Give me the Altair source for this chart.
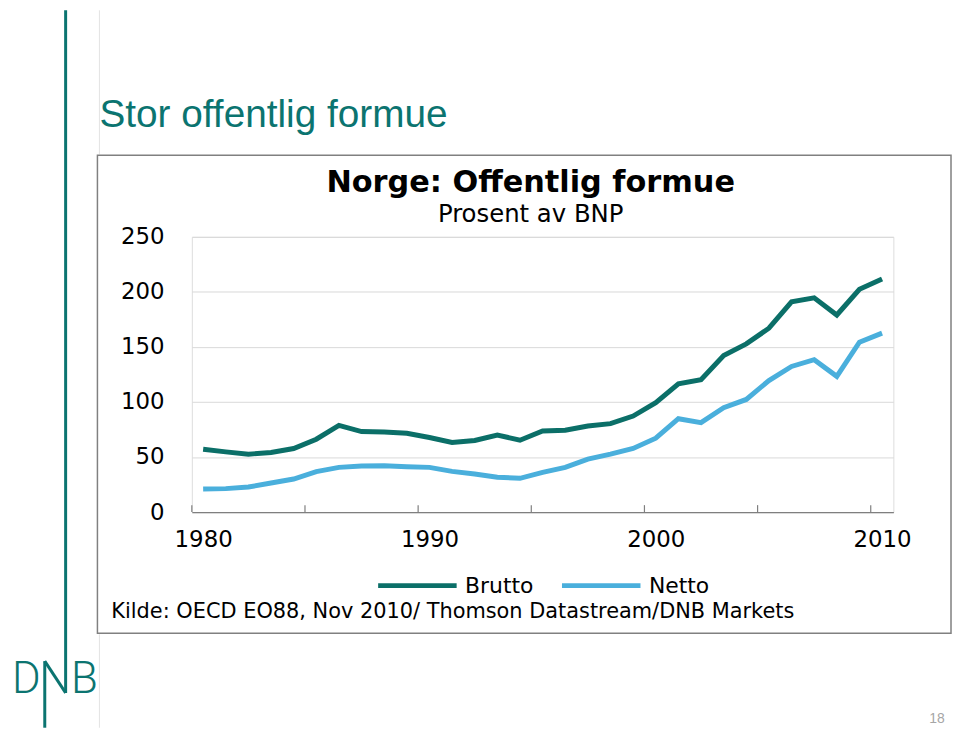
import altair as alt
import pandas as pd

# ---- data ----
years = list(range(1980, 2011))
brutto = [57.1, 54.7, 52.6, 54.1, 57.7, 66.2, 78.8, 73.1, 72.8, 71.6, 67.7, 63.2, 65.0, 70.0, 65.3,
          73.7, 74.3, 78.2, 80.3, 87.2, 99.3, 116.4, 120.3, 142.2, 152.8, 167.0, 191.0, 194.6, 179.0, 202.4, 211.7]
netto = [21.0, 21.3, 22.8, 26.4, 30.0, 36.7, 40.6, 41.8, 42.1, 41.2, 40.6, 37.0, 34.6, 31.6, 30.7,
         36.1, 40.6, 48.1, 52.6, 57.8, 67.1, 84.8, 81.2, 94.8, 102.3, 119.5, 132.3, 138.4, 123.3, 154.3, 162.5]
series_names = ["Brutto", "Netto"]
series_colors = ["#0b6f68", "#4aafdc"]
y_ticks = [0, 50, 100, 150, 200, 250]
x_labels = [1980, 1990, 2000, 2010]
x_tick_marks = [1979.5, 1984.5, 1989.5, 1994.5, 1999.5, 2004.5, 2009.5]

slide_title = "Stor offentlig formue"
chart_title = "Norge: Offentlig formue"
chart_subtitle = "Prosent av BNP"
source_text = "Kilde: OECD EO88, Nov 2010/ Thomson Datastream/DNB Markets"
page_no = "18"
logo_d, logo_b = "D", "B"

TEAL = "#0b7470"
W, H = 706, 277
FONT = "DejaVu Sans"

df = pd.DataFrame({
    "year": years * 2,
    "value": brutto + netto,
    "series": ["Brutto"] * len(years) + ["Netto"] * len(years),
})

lines = alt.Chart(df).mark_line(strokeWidth=5).encode(
    x=alt.X("year:Q",
            scale=alt.Scale(domain=[1979.5, 2010.5], nice=False, zero=False),
            axis=alt.Axis(values=x_labels, format="d", ticks=False, grid=False,
                          domainColor="#7f7f7f", domainWidth=1.2,
                          labelFont=FONT, labelFontSize=23, labelColor="black",
                          labelPadding=17, title=None)),
    y=alt.Y("value:Q",
            scale=alt.Scale(domain=[0, 250], nice=False),
            axis=alt.Axis(values=y_ticks, grid=True, gridColor="#d9d9d9", gridWidth=1,
                          domain=False, ticks=False, labelFont=FONT, labelFontSize=23,
                          labelColor="black", labelPadding=28, title=None)),
    color=alt.Color("series:N",
                    scale=alt.Scale(domain=series_names, range=series_colors),
                    legend=alt.Legend(orient="none", legendX=185, legendY=309,
                                      direction="horizontal", title=None,
                                      symbolType="stroke", symbolSize=6241,
                                      symbolStrokeWidth=5, labelFont=FONT,
                                      labelFontSize=22, labelColor="black",
                                      labelOffset=6, columnPadding=18)),
)

ticks = alt.Chart(pd.DataFrame({"t": x_tick_marks})).mark_rule(
    color="#7f7f7f", strokeWidth=1.2
).encode(x="t:Q", y=alt.value(H), y2=alt.value(H - 7))

one = pd.DataFrame({"a": [0]})

# chart frame
frame = alt.Chart(one).mark_rect(fill=None, stroke="#808080", strokeWidth=1.5).encode(
    x=alt.value(-95), x2=alt.value(764), y=alt.value(-82), y2=alt.value(399))

# slide decorations
gray_top = alt.Chart(one).mark_rule(color="#e3e3e3", strokeWidth=1).encode(
    x=alt.value(-93), y=alt.value(-228), y2=alt.value(-83))
gray_bot = alt.Chart(one).mark_rule(color="#e3e3e3", strokeWidth=1).encode(
    x=alt.value(-93), y=alt.value(400), y2=alt.value(494))
teal_right = alt.Chart(one).mark_rule(color=TEAL, strokeWidth=3).encode(
    x=alt.value(-127), y=alt.value(-228), y2=alt.value(459))
teal_diag = alt.Chart(one).mark_rule(color=TEAL, strokeWidth=3).encode(
    x=alt.value(-148), x2=alt.value(-127), y=alt.value(427), y2=alt.value(459))
teal_left = alt.Chart(one).mark_rule(color=TEAL, strokeWidth=3).encode(
    x=alt.value(-148), y=alt.value(427), y2=alt.value(494))

def text_layer(txt, x, y, **kw):
    return alt.Chart(pd.DataFrame({"t": [txt]})).mark_text(**kw).encode(
        text="t:N", x=alt.value(x), y=alt.value(y))

t_slide = text_layer(slide_title, -93, -111, font="Liberation Sans", fontSize=39,
                     color=TEAL, align="left", baseline="alphabetic")
t_title = text_layer(chart_title, 341, -45, font=FONT, fontSize=30.5, fontWeight="bold",
                     color="black", align="center", baseline="alphabetic")
t_sub = text_layer(chart_subtitle, 341, -15, font=FONT, fontSize=24.5,
                   color="black", align="center", baseline="alphabetic")
t_source = text_layer(source_text, -81, 384, font=FONT, fontSize=21, color="black",
                      align="left", baseline="alphabetic")
t_page = text_layer(page_no, 750, 489, font="Liberation Sans", fontSize=14,
                    color="#a6a6a6", align="center", baseline="alphabetic")
t_d = text_layer(logo_d, -166.5, 459, font="Roboto", fontSize=44, fontWeight=300,
                 color=TEAL, align="center", baseline="alphabetic")
t_b = text_layer(logo_b, -108, 459, font="Roboto", fontSize=44, fontWeight=300,
                 color=TEAL, align="center", baseline="alphabetic")

chart = alt.layer(
    gray_top, gray_bot, teal_right, teal_diag, teal_left, frame,
    t_slide, t_title, t_sub, t_source, t_page, t_d, t_b,
    ticks, lines,
).properties(
    width=W, height=H,
    autosize=alt.AutoSizeParams(type="none"),
    padding={"left": 185, "top": 228, "right": 59, "bottom": 217},
).configure_view(stroke=None).configure(background="white")

chart.save("out.html", embed_options={"renderer": "svg", "actions": False})
